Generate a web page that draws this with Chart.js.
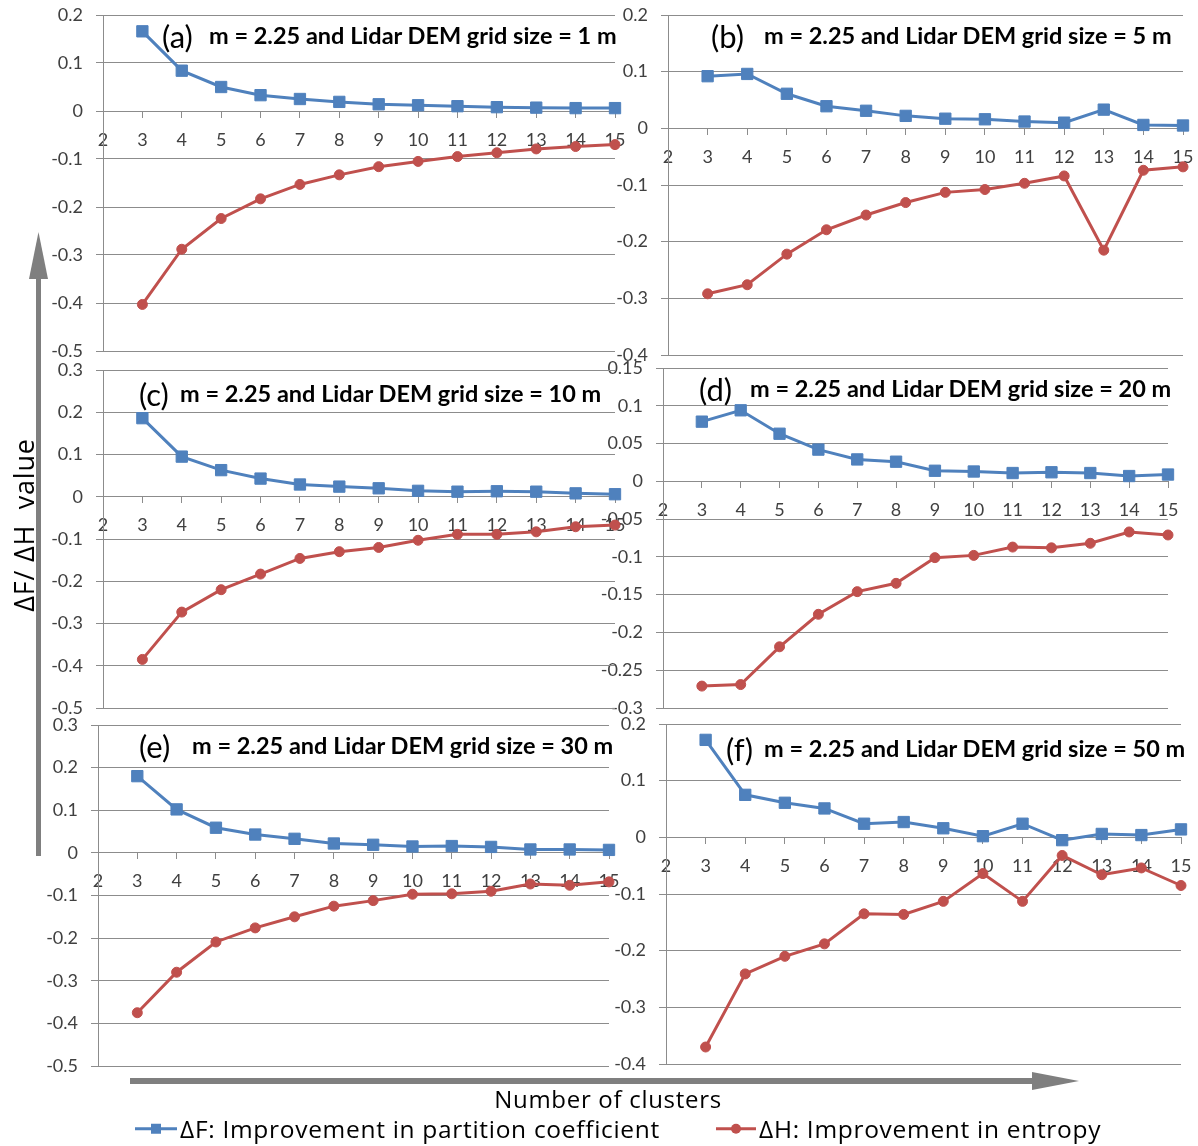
<!DOCTYPE html>
<html>
<head>
<meta charset="utf-8">
<script src="https://cdn.jsdelivr.net/npm/chart.js@4.4.1/dist/chart.umd.min.js"></script>
<style>
  body { margin: 0; background: #fff; }
  #page { position: relative; width: 1198px; height: 1146px; overflow: hidden; font-family: Lato, "Open Sans", sans-serif; }
  canvas { position: absolute; }
  .tag, .title { position: absolute; white-space: nowrap; color: #000; line-height: 1; transform: translateY(-50%); }
  .tag { font-size: 31px; }
  .title { font-size: 23.5px; font-weight: 700; }
  #yLabel { position: absolute; left: 23px; top: 525px; transform: translate(-50%, -50%) rotate(-90deg); font-family: "Open Sans", sans-serif; font-size: 27px; letter-spacing: 0.8px; white-space: nowrap; line-height: 1; }
  #xLabel { position: absolute; left: 608px; top: 1099px; transform: translate(-50%, -50%); font-family: "Open Sans", sans-serif; font-size: 24px; letter-spacing: 0.7px; white-space: nowrap; line-height: 1; }
  .legend { position: absolute; top: 1129px; transform: translateY(-50%); font-family: "Open Sans", sans-serif; font-size: 24.5px; letter-spacing: 0.7px; white-space: nowrap; line-height: 1; display: flex; align-items: center; }
  .legend svg { margin-right: 3px; }
  #arrows { position: absolute; left: 0; top: 0; }
</style>
</head>
<body>
<div id="page">
  <svg id="arrows" width="1198" height="1146">
    <line x1="38.5" y1="856" x2="38.5" y2="276" stroke="#7f7f7f" stroke-width="5"/>
    <polygon points="38.5,232 29,279 48,279" fill="#7f7f7f"/>
    <line x1="130" y1="1081" x2="1034" y2="1081" stroke="#7f7f7f" stroke-width="6"/>
    <polygon points="1079,1081 1032,1072 1032,1090" fill="#7f7f7f"/>
  </svg>
  <div id="yLabel">ΔF/ ΔH &nbsp;value</div>
  <div id="xLabel">Number of clusters</div>
  <div class="legend" style="left:135px">
    <svg width="42" height="14"><line x1="0" y1="7" x2="42" y2="7" stroke="#4F81BD" stroke-width="3"/><rect x="16" y="2" width="10" height="10" fill="#4F81BD"/></svg>
    <span>ΔF: Improvement in partition coefficient</span>
  </div>
  <div class="legend" style="left:716px">
    <svg width="40" height="14"><line x1="0" y1="7" x2="40" y2="7" stroke="#C0504D" stroke-width="3"/><circle cx="20" cy="7" r="5" fill="#C0504D"/></svg>
    <span>ΔH: Improvement in entropy</span>
  </div>
</div>
<script>
const BLUE = '#4F81BD';
const RED = '#C0504D';
const GRID = '#8c8c8c';

// number of clusters (x values) and x axis ticks
const clusters = [3, 4, 5, 6, 7, 8, 9, 10, 11, 12, 13, 14, 15];
const xTicks = [2, 3, 4, 5, 6, 7, 8, 9, 10, 11, 12, 13, 14, 15];

// ΔF / ΔH series for each panel
const dF_a = [0.166, 0.084, 0.050, 0.033, 0.025, 0.019, 0.014, 0.012, 0.010, 0.008, 0.007, 0.006, 0.006];
const dH_a = [-0.403, -0.288, -0.224, -0.183, -0.153, -0.133, -0.116, -0.105, -0.095, -0.087, -0.079, -0.074, -0.070];
const dF_b = [0.092, 0.096, 0.061, 0.039, 0.031, 0.022, 0.017, 0.016, 0.012, 0.010, 0.033, 0.006, 0.005];
const dH_b = [-0.292, -0.276, -0.222, -0.179, -0.153, -0.131, -0.113, -0.108, -0.097, -0.084, -0.215, -0.074, -0.068];
const dF_c = [0.186, 0.095, 0.063, 0.043, 0.029, 0.024, 0.020, 0.014, 0.012, 0.013, 0.012, 0.008, 0.006];
const dH_c = [-0.385, -0.273, -0.220, -0.183, -0.146, -0.130, -0.120, -0.103, -0.089, -0.089, -0.083, -0.071, -0.067];
const dF_d = [0.079, 0.094, 0.063, 0.042, 0.029, 0.026, 0.014, 0.013, 0.011, 0.012, 0.011, 0.007, 0.009];
const dH_d = [-0.271, -0.269, -0.219, -0.176, -0.146, -0.135, -0.101, -0.098, -0.087, -0.088, -0.082, -0.067, -0.071];
const dF_e = [0.180, 0.102, 0.059, 0.043, 0.033, 0.022, 0.019, 0.015, 0.016, 0.014, 0.008, 0.008, 0.007];
const dH_e = [-0.375, -0.280, -0.209, -0.176, -0.150, -0.125, -0.112, -0.097, -0.096, -0.090, -0.073, -0.076, -0.068];
const dF_f = [0.172, 0.075, 0.061, 0.051, 0.024, 0.027, 0.016, 0.002, 0.024, -0.005, 0.006, 0.004, 0.014];
const dH_f = [-0.370, -0.241, -0.210, -0.188, -0.135, -0.136, -0.113, -0.064, -0.113, -0.032, -0.066, -0.054, -0.085];

// y axis tick labels per panel
const yTicks_a = [0.2, 0.1, 0, -0.1, -0.2, -0.3, -0.4, -0.5];
const yTicks_b = [0.2, 0.1, 0, -0.1, -0.2, -0.3, -0.4];
const yTicks_c = [0.3, 0.2, 0.1, 0, -0.1, -0.2, -0.3, -0.4, -0.5];
const yTicks_d = [0.15, 0.1, 0.05, 0, -0.05, -0.1, -0.15, -0.2, -0.25, -0.3];
const yTicks_e = [0.3, 0.2, 0.1, 0, -0.1, -0.2, -0.3, -0.4, -0.5];
const yTicks_f = [0.2, 0.1, 0, -0.1, -0.2, -0.3, -0.4];

const gridSizes = ['1', '5', '10', '20', '30', '50'];
const tags = ['(a)', '(b)', '(c)', '(d)', '(e)', '(f)'];

// plot rectangles on the page and title placement
const panels = [
    {dF: dF_a, dH: dH_a, yTicks: yTicks_a, left: 103, right: 615, top: 15, bottom: 351, tagX: 162, textX: 209, titleY: 36},
    {dF: dF_b, dH: dH_b, yTicks: yTicks_b, left: 668, right: 1183, top: 15, bottom: 355, tagX: 711, textX: 764, titleY: 36},
    {dF: dF_c, dH: dH_c, yTicks: yTicks_c, left: 103, right: 615, top: 370, bottom: 708, tagX: 139, textX: 180, titleY: 394},
    {dF: dF_d, dH: dH_d, yTicks: yTicks_d, left: 663, right: 1168, top: 368, bottom: 708, tagX: 699, textX: 750, titleY: 389},
    {dF: dF_e, dH: dH_e, yTicks: yTicks_e, left: 98, right: 609, top: 725, bottom: 1066, tagX: 139, textX: 192, titleY: 746},
    {dF: dF_f, dH: dH_f, yTicks: yTicks_f, left: 666, right: 1181, top: 724, bottom: 1064, tagX: 726, textX: 764, titleY: 749},
];

const Y_W = 70, PAD_T = 14, PAD_B = 14, PAD_R = 16;
const page = document.getElementById('page');

function fmt(v) {
    return String(Math.round(v * 100) / 100);
}

panels.forEach((p, i) => {
    const canvas = document.createElement('canvas');
    const w = Y_W + (p.right - p.left) + PAD_R;
    const h = PAD_T + (p.bottom - p.top) + PAD_B;
    canvas.width = w;
    canvas.height = h;
    canvas.style.left = (p.left - Y_W) + 'px';
    canvas.style.top = (p.top - PAD_T) + 'px';
    page.insertBefore(canvas, page.firstChild);

    const tag = document.createElement('div');
    tag.className = 'tag';
    tag.style.left = p.tagX + 'px';
    tag.style.top = p.titleY + 'px';
    tag.textContent = tags[i];
    page.appendChild(tag);

    const title = document.createElement('div');
    title.className = 'title';
    title.style.left = p.textX + 'px';
    title.style.top = p.titleY + 'px';
    title.textContent = `m = 2.25 and Lidar DEM grid size = ${gridSizes[i]} m`;
    page.appendChild(title);

    new Chart(canvas, {
        type: 'line',
        data: {
            datasets: [{
                label: 'ΔF: Improvement in partition coefficient',
                data: clusters.map((x, k) => ({x: x, y: p.dF[k]})),
                borderColor: BLUE,
                backgroundColor: BLUE,
                borderWidth: 3,
                pointStyle: 'rect',
                pointRadius: 8,
                pointBorderWidth: 1,
                clip: false,
            }, {
                label: 'ΔH: Improvement in entropy',
                data: clusters.map((x, k) => ({x: x, y: p.dH[k]})),
                borderColor: RED,
                backgroundColor: RED,
                borderWidth: 3,
                pointStyle: 'circle',
                pointRadius: 5,
                pointBorderWidth: 1,
                clip: false,
            }]
        },
        options: {
            responsive: false,
            animation: false,
            layout: {autoPadding: false, padding: {top: PAD_T, bottom: PAD_B, right: PAD_R, left: 0}},
            plugins: {legend: {display: false}, tooltip: {enabled: false}},
            scales: {
                x: {
                    type: 'linear',
                    min: 2,
                    max: 15,
                    position: {y: 0},
                    afterFit: (scale) => {
                        scale.height = 0;
                        scale.paddingLeft = 0;
                        scale.paddingRight = 0;
                    },
                    afterBuildTicks: (scale) => { scale.ticks = xTicks.map(v => ({value: v})); },
                    grid: {drawOnChartArea: false, drawTicks: true, tickLength: 6, color: GRID},
                    border: {color: GRID},
                    ticks: {
                        autoSkip: false,
                        maxRotation: 0,
                        padding: 12,
                        color: '#404040',
                        font: {family: 'Lato', size: 18},
                        callback: v => String(v),
                    },
                },
                y: {
                    min: p.yTicks[p.yTicks.length - 1],
                    max: p.yTicks[0],
                    afterFit: (scale) => {
                        scale.width = Y_W;
                        scale.paddingTop = 0;
                        scale.paddingBottom = 0;
                    },
                    afterBuildTicks: (scale) => { scale.ticks = p.yTicks.map(v => ({value: v})); },
                    grid: {color: GRID, tickLength: 7},
                    border: {color: GRID},
                    ticks: {
                        padding: 13,
                        color: '#404040',
                        font: {family: 'Lato', size: 18},
                        callback: v => fmt(v),
                    },
                },
            },
        },
    });
});
</script>
</body>
</html>
